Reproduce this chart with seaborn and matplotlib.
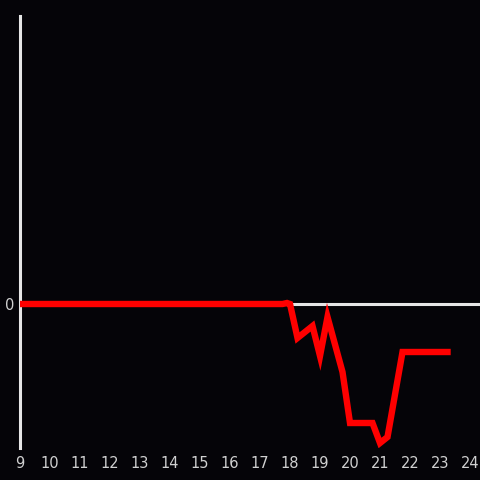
import matplotlib
matplotlib.use("Agg")
import matplotlib.pyplot as plt
import seaborn as sns
import pandas as pd

hours = [9.0, 17.75, 17.9, 18.0, 18.25, 18.75, 19.0, 19.25, 19.75, 20.0,
         20.75, 21.0, 21.25, 21.75, 23.25]
values = [0, 0, 1, 0, -34, -22, -52, -13, -68, -119,
          -119, -139, -133, -48, -48]
xticks = list(range(9, 25))

bg = "#050408"
fg = "#d0d0d0"

sns.set_style("dark", {"axes.facecolor": bg, "figure.facecolor": bg})
plt.rcParams["font.family"] = ["DejaVu Sans"]

df = pd.DataFrame({"hour": hours, "value": values})

fig = plt.figure(figsize=(4.8, 4.8), dpi=100)
ax = fig.add_axes([20 / 480, 32 / 480, 460 / 480, 432 / 480])
ax.set_facecolor(bg)

ax.axhline(0, color="#e6e6e6", lw=2.2, zorder=1)
sns.lineplot(data=df, x="hour", y="value", ax=ax, color="#ff0000",
             lw=4.6, solid_capstyle="projecting", solid_joinstyle="miter",
             zorder=3)

ax.set_xlim(9, 24.333)
ax.set_ylim(-144, 288)
ax.set_xticks(xticks)
ax.set_xticklabels([str(t) for t in xticks])
ax.set_yticks([0])
ax.set_yticklabels(["0"])
ax.tick_params(colors=fg, labelsize=10.5, length=0, pad=6)
ax.tick_params(axis="y", pad=4)
ax.set_xlabel("")
ax.set_ylabel("")
ax.grid(False)
for s in ["top", "right", "bottom"]:
    ax.spines[s].set_visible(False)
ax.spines["left"].set_color("#e6e6e6")
ax.spines["left"].set_linewidth(2.2)

fig.savefig("out.png", dpi=100, facecolor=bg)
